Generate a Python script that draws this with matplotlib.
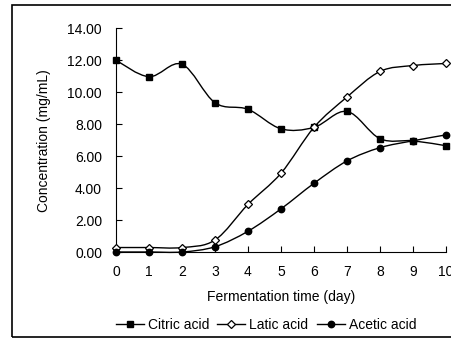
import numpy as np
import matplotlib
matplotlib.use('Agg')
from matplotlib import pyplot as plt
from matplotlib.path import Path
from matplotlib.patches import PathPatch, Rectangle
from matplotlib.lines import Line2D

plt.rcParams['font.family'] = ['Liberation Sans', 'DejaVu Sans']

# fermentation data (mg/mL)
days = [0, 1, 2, 3, 4, 5, 6, 7, 8, 9, 10]
citric = [12.0, 10.97, 11.75, 9.34, 8.93, 7.71, 7.8, 8.8, 7.09, 6.96, 6.65]
latic = [0.28, 0.28, 0.28, 0.75, 2.98, 4.93, 7.8, 9.7, 11.3, 11.67, 11.8]
acetic = [0.0, 0.0, 0.0, 0.33, 1.3, 2.7, 4.3, 5.7, 6.53, 6.96, 7.33]
series_names = ['Citric acid', 'Latic acid', 'Acetic acid']
yticks = [0, 2, 4, 6, 8, 10, 12, 14]


def smooth_path(x, y):
    # cubic bezier through the points, spreadsheet-style smoothing
    p = np.column_stack([x, y]).astype(float)
    ext = np.vstack([p[0], p, p[-1]])
    verts = [p[0]]
    codes = [Path.MOVETO]
    for i in range(len(p) - 1):
        c1 = ext[i + 1] + (ext[i + 2] - ext[i]) / 6
        c2 = ext[i + 2] - (ext[i + 3] - ext[i + 1]) / 6
        verts += [c1, c2, p[i + 1]]
        codes += [Path.CURVE4] * 3
    return Path(verts, codes)


fig = plt.figure(figsize=(4.51, 3.41), dpi=100)
ax = fig.add_axes([116 / 451, 1 - 252 / 341, 330 / 451, (252 - 28.3) / 341])

styles = [
    dict(marker='s', ms=4.8, mfc='black', mec='black'),
    dict(marker='D', ms=3.8, mfc='white', mec='black', mew=0.9),
    dict(marker='o', ms=4.6, mfc='black', mec='black'),
]
for vals, st in zip([citric, latic, acetic], styles):
    ax.add_patch(PathPatch(smooth_path(days, vals), fill=False, lw=1.0,
                           ec='black', clip_on=False))
    ax.plot(days, vals, ls='none', clip_on=False, zorder=3, **st)

ax.set_xlim(0, 10)
ax.set_ylim(0, 14)
ax.set_xticks(days)
ax.set_yticks(yticks)
ax.set_yticklabels(['%.2f' % v for v in yticks])
ax.tick_params(direction='in', length=4, width=0.8, labelsize=10,
               colors='black')
ax.tick_params(axis='y', pad=10)
ax.tick_params(axis='x', pad=9)
ax.spines['top'].set_visible(False)
ax.spines['right'].set_visible(False)
for s in ['left', 'bottom']:
    ax.spines[s].set_linewidth(0.8)
ax.set_xlabel('Fermentation time (day)', fontsize=10, labelpad=8)
ax.set_ylabel('Concentration (mg/mL)', fontsize=10, labelpad=12)

handles = [Line2D([], [], color='black', lw=1.0, **st) for st in styles]
fig.legend(handles, series_names, loc='center', ncol=3,
           bbox_to_anchor=(266 / 451, 1 - 325 / 341), frameon=False,
           fontsize=10, handlelength=2.0, handletextpad=0.3,
           columnspacing=0.6)

# outer frame
fig.patches.append(Rectangle((12 / 451, 1 - 337 / 341), 1.0, (337 - 5) / 341,
                             transform=fig.transFigure, fill=False,
                             ec='black', lw=1.2))

fig.savefig('out.png', dpi=100)
